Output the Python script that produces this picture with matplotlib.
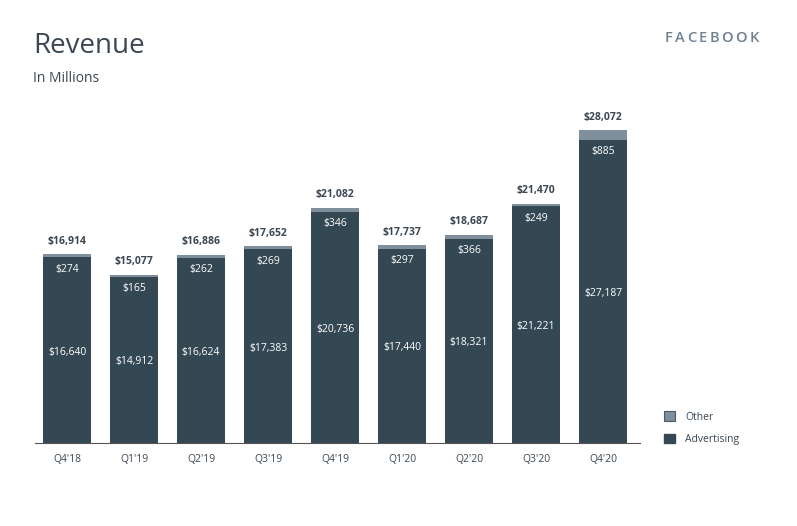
import matplotlib
matplotlib.use("Agg")
import matplotlib.pyplot as plt
from matplotlib.patches import Patch

plt.rcParams['font.family'] = ['Open Sans', 'DejaVu Sans']

quarters = ["Q4'18", "Q1'19", "Q2'19", "Q3'19", "Q4'19", "Q1'20", "Q2'20", "Q3'20", "Q4'20"]
advertising = [16640, 14912, 16624, 17383, 20736, 17440, 18321, 21221, 27187]
other = [274, 165, 262, 269, 346, 297, 366, 249, 885]
totals = [16914, 15077, 16886, 17652, 21082, 17737, 18687, 21470, 28072]

ADV = '#344854'
OTH = '#7f8f9c'
TXT = '#3b4753'

W, H = 797, 526
fig = plt.figure(figsize=(W / 100, H / 100), dpi=100)
left, right, bottom, top = 35, 640, 443, 100
ax = fig.add_axes([left / W, 1 - bottom / H, (right - left) / W, (bottom - top) / H])

x = list(range(len(quarters)))
ax.bar(x, advertising, width=0.72, color=ADV, label='Advertising', zorder=2)
ax.bar(x, other, bottom=advertising, width=0.72, color=OTH, label='Other', zorder=2)

scale = (443 - 130) / 28072  # px per unit
ax.set_ylim(0, (bottom - top) / scale)
ax.set_xlim(-0.478, 8.552)

for i in x:
    ax.text(i, advertising[i] / 2 - 2 / scale, f"${advertising[i]:,}", ha='center', va='center',
            color='white', fontsize=7.5)
    ax.text(i, advertising[i] - 12 / scale, f"${other[i]:,}", ha='center', va='center',
            color='white', fontsize=7.5)
    ax.text(i, totals[i] + 13 / scale, f"${totals[i]:,}", ha='center', va='center',
            color=TXT, fontsize=7.5, fontweight='bold')

for s in ['top', 'right', 'left']:
    ax.spines[s].set_visible(False)
ax.spines['bottom'].set_color('#555555')
ax.spines['bottom'].set_linewidth(0.8)
ax.set_yticks([])
ax.set_xticks(x)
ax.set_xticklabels(quarters, fontsize=7.5, color=TXT)
ax.tick_params(axis='x', length=0, pad=8)

fig.text(33 / W, 1 - 46 / H, "Revenue", fontsize=20, color=TXT, va='center', ha='left')
fig.text(33 / W, 1 - 78 / H, "In Millions", fontsize=10, color=TXT, va='center', ha='left')

# FACEBOOK letter-spaced
word = "FACEBOOK"
renderer = fig.canvas.get_renderer()
xpos = 665
for ch in word:
    t = fig.text(xpos / W, 1 - 38 / H, ch, fontsize=10.5, fontweight='semibold',
                 color='#6f8293', va='center', ha='left')
    bb = t.get_window_extent(renderer=renderer)
    xpos += bb.width + 2.4

handles = [Patch(facecolor=OTH, edgecolor='#4a5966', linewidth=0.8, label='Other'),
           Patch(facecolor=ADV, edgecolor=ADV, label='Advertising')]
fig.legend(handles=handles, loc='upper left', bbox_to_anchor=(655 / W, 1 - 402 / H),
           frameon=False, fontsize=7.5, handlelength=1.0, handleheight=1.0,
           labelspacing=1.1, handletextpad=1.0, labelcolor=TXT)

fig.savefig("out.png", dpi=100)
